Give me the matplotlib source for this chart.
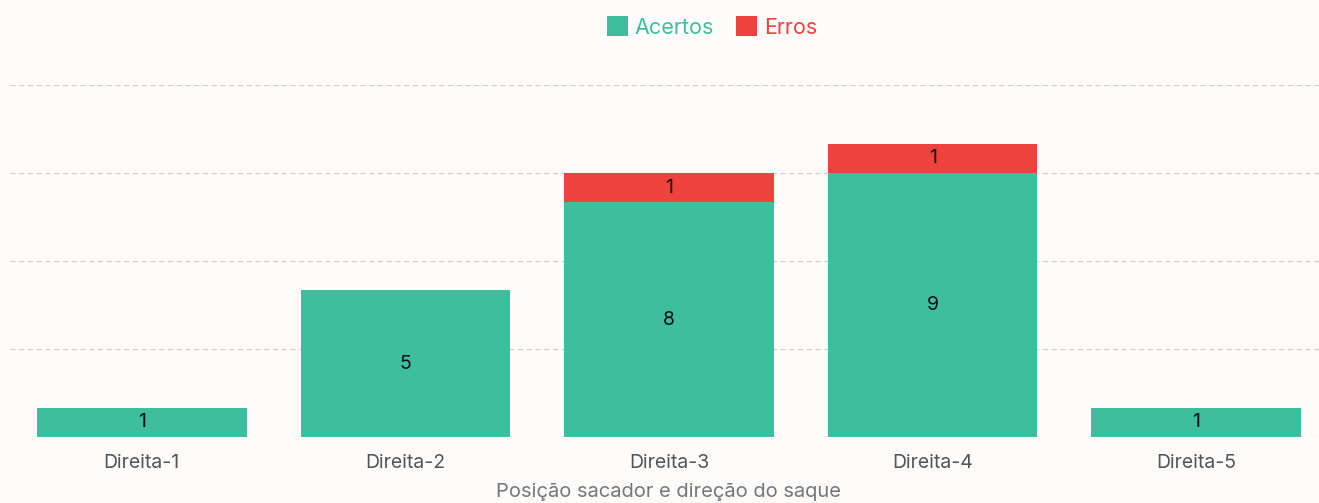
import matplotlib
matplotlib.use("Agg")
import matplotlib.pyplot as plt
import numpy as np

categories = ["Direita-1", "Direita-2", "Direita-3", "Direita-4", "Direita-5"]
acertos = [1, 5, 8, 9, 1]
erros = [0, 0, 1, 1, 0]
series_names = ["Acertos", "Erros"]
colors = ["#3ebe9f", "#ee423d"]

plt.rcParams['font.family'] = ['Inter', 'DejaVu Sans']

fig = plt.figure(figsize=(13.19, 5.03), dpi=100)
fig.patch.set_facecolor("#fdfcfb")
ax = fig.add_axes([10/1319, (503-437)/503, 1318/1319, (437-85)/503])
ax.set_facecolor("#fdfcfb")

x = np.arange(len(categories))
b1 = ax.bar(x, acertos, width=0.795, color=colors[0], label=series_names[0], zorder=3)
b2 = ax.bar(x, erros, width=0.795, bottom=acertos, color=colors[1], label=series_names[1], zorder=3)

for i, v in enumerate(acertos):
    if v > 0:
        ax.text(x[i], v / 2, str(v), ha="center", va="center", fontsize=14, color="#111111", zorder=4)
for i, v in enumerate(erros):
    if v > 0:
        ax.text(x[i], acertos[i] + v / 2, str(v), ha="center", va="center", fontsize=14, color="#111111", zorder=4)

ax.set_xlim(-0.5, len(categories) - 0.5)
ax.set_ylim(0, 12)
ax.set_yticks([0, 3, 6, 9, 12])
ax.yaxis.grid(True, linestyle=(0, (4, 3)), color="#cfcfcf", linewidth=0.9, zorder=0)
ax.tick_params(axis="y", left=False, labelleft=False)
ax.set_xticks(x)
ax.set_xticklabels(categories, fontsize=14, color="#555555")
ax.tick_params(axis="x", length=0, pad=12)
for s in ax.spines.values():
    s.set_visible(False)
ax.set_xlabel("Posição sacador e direção do saque", fontsize=14.5, color="#777777", labelpad=8)

leg = ax.legend(loc="center", bbox_to_anchor=(712 / 1319, (503 - 27) / 503), bbox_transform=fig.transFigure,
                ncol=2, frameon=False, fontsize=15.5, handlelength=1.0, handleheight=1.0,
                handletextpad=0.3, columnspacing=1.0, borderpad=0)
for t, c in zip(leg.get_texts(), colors):
    t.set_color(c)

fig.savefig("out.png", dpi=100, facecolor=fig.get_facecolor())
